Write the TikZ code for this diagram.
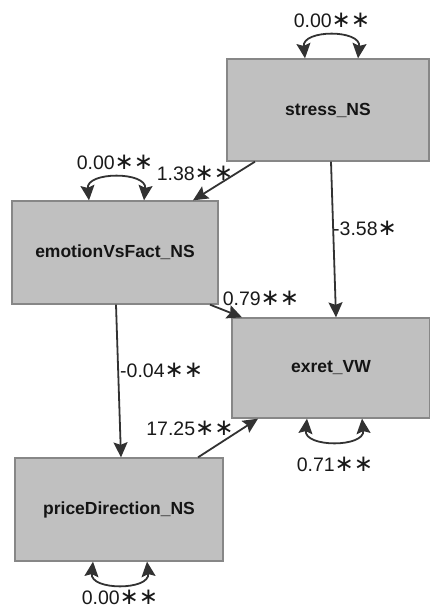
\documentclass[tikz,border=0pt]{standalone}
\usepackage{fontspec}
\setmainfont{Liberation Sans}
\newfontfamily\symfont{DejaVu Sans}
\usetikzlibrary{arrows.meta}
\definecolor{boxfill}{RGB}{192,192,192}
\definecolor{boxline}{RGB}{135,135,135}
\definecolor{edge}{RGB}{50,50,50}
% centred significance star
\newcommand{\sig}{{\symfont\fontsize{23}{23}\selectfont\char"2217}}
\tikzset{
  var/.style={draw=boxline, fill=boxfill, line width=1.3pt, inner sep=0pt,
    font=\fontsize{17.5}{19}\selectfont\bfseries, text=black!92},
  path/.style={draw=edge, line width=1.8pt,
    -{Stealth[length=15pt,width=14pt,inset=2.5pt]}},
  loop/.style={draw=edge, line width=1.8pt,
    {Stealth[length=15pt,width=14pt,inset=2.5pt]}-{Stealth[length=15pt,width=14pt,inset=2.5pt]}},
  est/.style={font=\fontsize{19.5}{21}\selectfont, text=black!90, inner sep=0pt}
}
\begin{document}
\begin{tikzpicture}[x=1pt,y=-1pt]
\useasboundingbox (0,0) rectangle (430,609);

% observed variables
\node[var, minimum width=202pt, minimum height=102pt] (stress) at (328,110) {stress\_NS};
\node[var, minimum width=206pt, minimum height=103pt] (emotion) at (115,252.5) {emotionVsFact\_NS};
\node[var, minimum width=198pt, minimum height=100pt] (exret) at (331,368) {exret\_VW};
\node[var, minimum width=208pt, minimum height=103pt] (price) at (119,509.5) {priceDirection\_NS};

% regression paths
\draw[path] ([xshift=-73pt]stress.south) -- ([xshift=78pt]emotion.north);
\draw[path] ([xshift=3pt]stress.south) -- ([xshift=5pt]exret.north);
\draw[path] ([xshift=95pt]emotion.south) -- ([xshift=-89pt]exret.north);
\draw[path] ([xshift=1pt]emotion.south) -- ([xshift=2pt]price.north);
\draw[path] ([xshift=79pt]price.north) -- ([xshift=-73pt]exret.south);

% variances
\draw[loop] ([xshift=-23pt]stress.north) .. controls +(-3,-29) and +(3,-29) .. ([xshift=30pt]stress.north);
\draw[loop] ([xshift=-26pt]emotion.north) .. controls +(-3,-29) and +(3,-29) .. ([xshift=29pt]emotion.north);
\draw[loop] ([xshift=-24pt]exret.south) .. controls +(-3,29) and +(3,29) .. ([xshift=31pt]exret.south);
\draw[loop] ([xshift=-26pt]price.south) .. controls +(-3,29) and +(3,29) .. ([xshift=28pt]price.south);

% estimates
\node[est] (e1) at (195,173) {1.38\sig\sig};
\node[est, anchor=west] (e2) at (333,228) {-3.58\sig};
\node[est] (e3) at (261,298) {0.79\sig\sig};
\node[est, anchor=west] (e4) at (120,370) {-0.04\sig\sig};
\node[est] (e5) at (190,428) {17.25\sig\sig};
\node[est] (v1) at (332,20) {0.00\sig\sig};
\node[est] (v2) at (115,162) {0.00\sig\sig};
\node[est] (v3) at (335,464) {0.71\sig\sig};
\node[est] (v4) at (120,597) {0.00\sig\sig};
\end{tikzpicture}
\end{document}
